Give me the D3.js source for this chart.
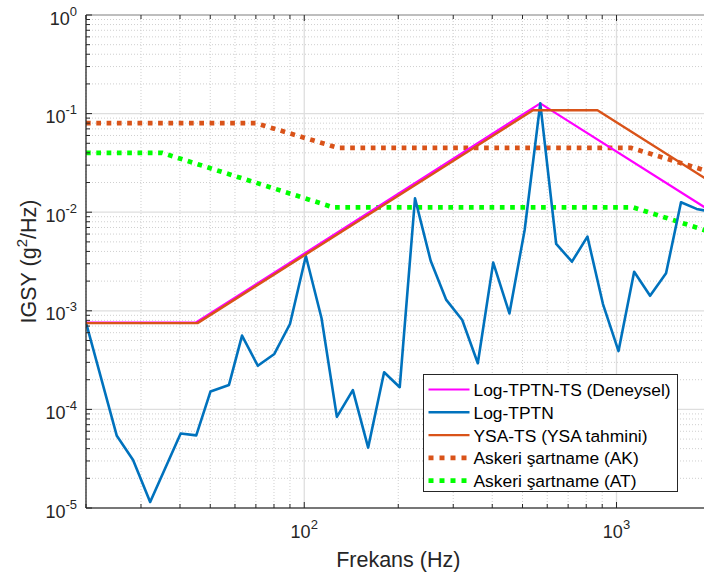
<!DOCTYPE html>
<html>
<head>
<meta charset="utf-8">
<script src="https://cdn.jsdelivr.net/npm/d3@7"></script>
<style>
  html, body { margin: 0; padding: 0; background: #fff; }
  svg { display: block; font-family: Arial, "Liberation Sans", Helvetica, sans-serif; }
</style>
</head>
<body>
<svg id="chart" width="704" height="579"></svg>
<script>
// Measured PSD (Log-TPTN)
const freqTPTN = [20, 25.1, 28.3, 32.1, 40.2, 45.1, 50.1, 57.4, 63.2, 71.0, 80.2, 90.0,
  101.2, 113.6, 127.2, 143.1, 160.2, 180.2, 202.2, 226.3, 254, 285, 320.6, 359.6,
  402.9, 454, 508, 570, 641, 720, 807, 905, 1015, 1139, 1281, 1441, 1609, 1805, 2000];
const psdTPTN = [7.6e-4, 5.4e-5, 3.07e-5, 1.15e-5, 5.7e-5, 5.45e-5, 1.52e-4, 1.77e-4, 5.6e-4, 2.77e-4, 3.65e-4, 7.35e-4,
  3.6e-3, 8.4e-4, 8.4e-5, 1.57e-4, 4.1e-5, 2.38e-4, 1.68e-4, 1.38e-2, 3.22e-3, 1.29e-3, 8.07e-4, 2.94e-4,
  3.08e-3, 9.4e-4, 6.6e-3, 0.127, 4.76e-3, 3.15e-3, 5.65e-3, 1.17e-3, 3.9e-4, 2.49e-3, 1.42e-3, 2.4e-3, 1.26e-2, 1.08e-2, 1.01e-2];

// Test spectrum (experimental)
const freqTS = [20, 45, 570, 2000];
const psdTS = [7.6e-4, 7.6e-4, 0.127, 0.0103];

// Neural-network estimate
const freqYSA = [20, 45.5, 540, 869, 2000];
const psdYSA = [7.5e-4, 7.5e-4, 0.108, 0.108, 0.0204];

// Military specification profiles
const freqAK = [20, 70, 128, 1110, 2000];
const psdAK = [0.08, 0.08, 0.045, 0.045, 0.0255];
const freqAT = [20, 35, 124, 1130, 2000];
const psdAT = [0.04, 0.04, 0.0112, 0.0112, 0.0063];

const seriesNames = ["Log-TPTN-TS (Deneysel)", "Log-TPTN", "YSA-TS (YSA tahmini)",
  "Askeri şartname (AK)", "Askeri şartname (AT)"];
const xTickExps = [2, 3];
const yTickExps = [0, -1, -2, -3, -4, -5];
const xLabel = "Frekans (Hz)";

const svg = d3.select("#chart");
const L = 86, R = 710.5, T = 15, B = 508;

const x = d3.scaleLog().domain([20, 2000]).range([L, R]);
const y = d3.scaleLog().domain([1e-5, 1]).range([B, T]);

// grid
const minorX = [], majorX = [100, 1000];
[10, 100, 1000].forEach(d => { for (let k = 2; k <= 9; k++) { const v = d * k; if (v >= 20 && v <= 2000) minorX.push(v); } });
const minorY = [], majorY = [1e-1, 1e-2, 1e-3, 1e-4];
[1e-5, 1e-4, 1e-3, 1e-2, 1e-1].forEach(d => { for (let k = 2; k <= 9; k++) minorY.push(d * k); });

const grid = svg.append("g");
grid.selectAll("line.mx").data(minorX).enter().append("line")
  .attr("x1", d => x(d)).attr("x2", d => x(d)).attr("y1", T).attr("y2", B)
  .attr("stroke", "#cfcfcf").attr("stroke-width", 1).attr("stroke-dasharray", "1,2");
grid.selectAll("line.my").data(minorY).enter().append("line")
  .attr("y1", d => y(d)).attr("y2", d => y(d)).attr("x1", L).attr("x2", R)
  .attr("stroke", "#cfcfcf").attr("stroke-width", 1).attr("stroke-dasharray", "1,2");
grid.selectAll("line.Mx").data(majorX).enter().append("line")
  .attr("x1", d => x(d)).attr("x2", d => x(d)).attr("y1", T).attr("y2", B)
  .attr("stroke", "#dedede").attr("stroke-width", 1.3);
grid.selectAll("line.My").data(majorY).enter().append("line")
  .attr("y1", d => y(d)).attr("y2", d => y(d)).attr("x1", L).attr("x2", R)
  .attr("stroke", "#dedede").attr("stroke-width", 1.3);

// series
svg.append("clipPath").attr("id", "plotclip").append("rect")
  .attr("x", L).attr("y", T).attr("width", R - L).attr("height", B - T);
const plot = svg.append("g").attr("clip-path", "url(#plotclip)");
const line = d3.line().x(d => x(d[0])).y(d => y(d[1]));
const zip = (a, b) => a.map((v, i) => [v, b[i]]);

const styles = [
  { f: freqTS, p: psdTS, color: "#ff00ff", w: 2.2, dash: null },
  { f: freqTPTN, p: psdTPTN, color: "#0072bd", w: 2.6, dash: null },
  { f: freqYSA, p: psdYSA, color: "#d95319", w: 2.4, dash: null },
  { f: freqAK, p: psdAK, color: "#d95319", w: 4.7, dash: "4.7,5.6" },
  { f: freqAT, p: psdAT, color: "#00ff00", w: 4.7, dash: "4.7,5.6" }
];
// draw order: dotted profiles first, then measured/estimated curves
[3, 4, 0, 1, 2].forEach(i => {
  const s = styles[i];
  plot.append("path").datum(zip(s.f, s.p))
    .attr("d", line).attr("fill", "none")
    .attr("stroke", s.color).attr("stroke-width", s.w)
    .attr("stroke-linejoin", "round")
    .attr("stroke-linecap", s.dash ? "butt" : "round")
    .attr("stroke-dasharray", s.dash);
});

// axes box
svg.append("line").attr("x1", L).attr("x2", R).attr("y1", T).attr("y2", T)
  .attr("stroke", "#a8a8a8").attr("stroke-width", 1.4);
svg.append("line").attr("x1", L).attr("x2", R).attr("y1", B).attr("y2", B)
  .attr("stroke", "#4a4a4a").attr("stroke-width", 1.3);
svg.append("line").attr("x1", L).attr("x2", L).attr("y1", T).attr("y2", B)
  .attr("stroke", "#262626").attr("stroke-width", 1.3);

// ticks (inward)
const tick = svg.append("g").attr("stroke", "#262626").attr("stroke-width", 1);
minorX.forEach(v => {
  tick.append("line").attr("x1", x(v)).attr("x2", x(v)).attr("y1", B).attr("y2", B - 4);
  tick.append("line").attr("x1", x(v)).attr("x2", x(v)).attr("y1", T).attr("y2", T + 4);
});
majorX.forEach(v => {
  tick.append("line").attr("x1", x(v)).attr("x2", x(v)).attr("y1", B).attr("y2", B - 6);
  tick.append("line").attr("x1", x(v)).attr("x2", x(v)).attr("y1", T).attr("y2", T + 6);
});
minorY.forEach(v => tick.append("line").attr("x1", L).attr("x2", L + 4).attr("y1", y(v)).attr("y2", y(v)));
[1, 1e-1, 1e-2, 1e-3, 1e-4, 1e-5].forEach(v =>
  tick.append("line").attr("x1", L).attr("x2", L + 6).attr("y1", y(v)).attr("y2", y(v)));

// tick labels
const txtColor = "#262626";
yTickExps.forEach(e => {
  const t = svg.append("text").attr("x", 77).attr("y", y(Math.pow(10, e)) + 9.5)
    .attr("text-anchor", "end").attr("fill", txtColor).attr("font-size", 18);
  t.append("tspan").text("10");
  t.append("tspan").attr("dy", -9).attr("font-size", 13).text(String(e));
});
xTickExps.forEach(e => {
  const t = svg.append("text").attr("x", x(Math.pow(10, e))).attr("y", 538)
    .attr("text-anchor", "middle").attr("fill", txtColor).attr("font-size", 18);
  t.append("tspan").text("10");
  t.append("tspan").attr("dy", -9).attr("font-size", 13).text(String(e));
});

// axis labels
svg.append("text").attr("x", (L + R) / 2).attr("y", 567)
  .attr("text-anchor", "middle").attr("fill", txtColor).attr("font-size", 21.5).text(xLabel);
const yl = svg.append("text")
  .attr("transform", `translate(36,${(T + B) / 2}) rotate(-90)`)
  .attr("text-anchor", "middle").attr("fill", txtColor).attr("font-size", 21.5);
yl.append("tspan").text("IGSY (g");
yl.append("tspan").attr("dy", -9).attr("font-size", 15).text("2");
yl.append("tspan").attr("dy", 9).text("/Hz)");

// legend
const lg = svg.append("g");
lg.append("rect").attr("x", 423.5).attr("y", 374.5).attr("width", 254).attr("height", 117)
  .attr("fill", "#fff").attr("stroke", "#262626").attr("stroke-width", 1);
seriesNames.forEach((name, i) => {
  const s = styles[i];
  const cy = 389.5 + i * 22.8;
  lg.append("line").attr("x1", 428.5).attr("x2", 469.5).attr("y1", cy).attr("y2", cy)
    .attr("stroke", s.color).attr("stroke-width", s.dash ? 4.7 : s.w)
    .attr("stroke-dasharray", s.dash ? "5,6" : null);
  lg.append("text").attr("x", 473.5).attr("y", cy + 6.5)
    .attr("fill", "#000").attr("font-size", 17.4).text(name);
});
</script>
</body>
</html>
